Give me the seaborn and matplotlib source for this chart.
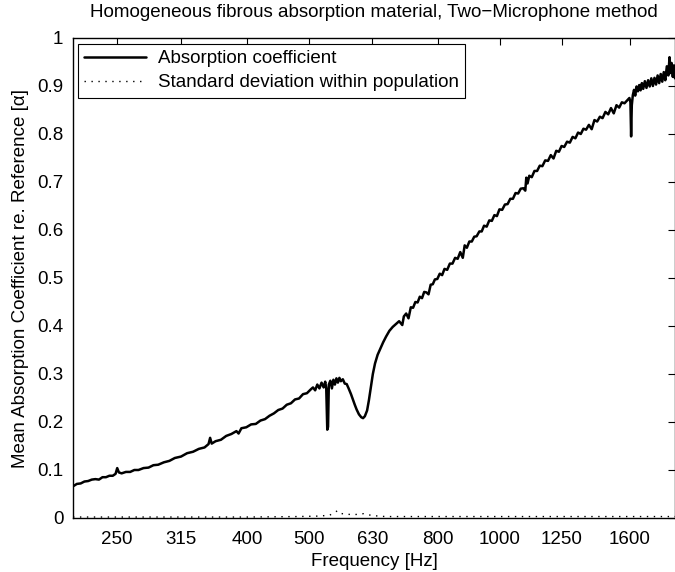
import numpy as np
import pandas as pd
import matplotlib
matplotlib.use("Agg")
import matplotlib.pyplot as plt
import seaborn as sns

# ---- data ----
freq_hz = [213, 216, 219, 222, 225, 228, 231, 234, 237, 240, 243, 246, 248.5, 250, 251.5, 254, 258, 262, 266, 270,
           275, 280, 285, 290, 296, 302, 308, 315, 322, 329, 336, 343, 348, 350, 352, 357, 364, 371, 378, 385,
           388, 392, 399, 406, 413, 420, 427, 434, 441, 448, 455, 462, 469, 476, 483, 490, 497, 504, 508, 512,
           516, 520, 524, 528, 531, 533, 535, 536.5, 538, 541, 544, 547, 550, 553, 556, 559, 562, 566, 570, 574,
           578, 583, 587, 591, 595, 600, 605, 609, 613, 618, 622, 626, 631, 636, 642, 648, 655, 662, 670, 678,
           686, 694, 702, 706, 712, 718, 724, 730, 736, 742, 748, 754, 760, 766, 772, 778, 784, 790, 797, 804,
           811, 818, 826, 834, 842, 850, 858, 866, 874, 880, 887, 895, 903, 911, 919, 928, 936, 944, 953, 962,
           971, 980, 989, 998, 1008, 1018, 1028, 1038, 1048, 1058, 1068, 1078, 1088, 1096, 1100, 1105, 1112, 1122, 1133, 1144,
           1155, 1166, 1178, 1190, 1202, 1214, 1226, 1238, 1250, 1262, 1275, 1288, 1301, 1314, 1327, 1340, 1353, 1366, 1380, 1394,
           1408, 1422, 1436, 1450, 1465, 1480, 1495, 1510, 1525, 1540, 1555, 1570, 1585, 1598, 1604, 1608, 1612, 1618, 1625, 1632,
           1640, 1648, 1656, 1664, 1672, 1680, 1690, 1700, 1710, 1720, 1730, 1740, 1750, 1760, 1770, 1780, 1790, 1800, 1810, 1820,
           1830, 1840, 1848, 1855, 1862, 1870, 1878, 1885]
absorption = [0.066, 0.071, 0.072, 0.076, 0.077, 0.080, 0.081, 0.080, 0.085, 0.085, 0.088, 0.088, 0.092, 0.104, 0.095, 0.093, 0.096, 0.096, 0.100, 0.100,
              0.104, 0.105, 0.110, 0.111, 0.116, 0.119, 0.125, 0.128, 0.135, 0.138, 0.144, 0.147, 0.154, 0.167, 0.155, 0.160, 0.163, 0.171, 0.175, 0.181,
              0.176, 0.187, 0.189, 0.195, 0.196, 0.203, 0.206, 0.213, 0.218, 0.225, 0.228, 0.236, 0.239, 0.247, 0.249, 0.258, 0.260, 0.268, 0.272, 0.266,
              0.278, 0.270, 0.282, 0.272, 0.284, 0.270, 0.184, 0.190, 0.278, 0.286, 0.270, 0.288, 0.278, 0.291, 0.282, 0.292, 0.285, 0.289, 0.280, 0.279,
              0.270, 0.258, 0.247, 0.236, 0.226, 0.216, 0.210, 0.208, 0.212, 0.224, 0.245, 0.270, 0.300, 0.322, 0.340, 0.352, 0.366, 0.378, 0.390, 0.398,
              0.404, 0.410, 0.402, 0.420, 0.426, 0.416, 0.439, 0.438, 0.450, 0.449, 0.461, 0.458, 0.471, 0.470, 0.466, 0.486, 0.487, 0.497, 0.498, 0.509,
              0.506, 0.519, 0.517, 0.530, 0.530, 0.542, 0.540, 0.554, 0.542, 0.568, 0.563, 0.576, 0.576, 0.586, 0.587, 0.597, 0.597, 0.609, 0.607, 0.620,
              0.619, 0.631, 0.629, 0.643, 0.642, 0.653, 0.654, 0.665, 0.665, 0.677, 0.676, 0.686, 0.687, 0.682, 0.709, 0.697, 0.713, 0.710, 0.723, 0.723,
              0.734, 0.733, 0.745, 0.744, 0.756, 0.749, 0.765, 0.763, 0.775, 0.773, 0.784, 0.782, 0.794, 0.791, 0.803, 0.800, 0.811, 0.809, 0.819, 0.810,
              0.829, 0.826, 0.836, 0.833, 0.846, 0.841, 0.854, 0.843, 0.860, 0.855, 0.866, 0.864, 0.870, 0.875, 0.866, 0.795, 0.860, 0.881, 0.892, 0.880,
              0.899, 0.889, 0.902, 0.891, 0.906, 0.894, 0.910, 0.896, 0.912, 0.899, 0.916, 0.900, 0.917, 0.903, 0.922, 0.906, 0.925, 0.909, 0.929, 0.912,
              0.941, 0.922, 0.960, 0.927, 0.948, 0.919, 0.943, 0.916]

std_freq_hz = [213, 300, 400, 480, 520, 540, 555, 560, 570, 590, 610, 630, 660, 800, 1200, 1885]
std_dev = [0.002, 0.002, 0.002, 0.003, 0.004, 0.006, 0.015, 0.010, 0.008, 0.007, 0.009, 0.005, 0.003, 0.003, 0.003, 0.003]

tick_freqs = [250, 315, 400, 500, 630, 800, 1000, 1250, 1600]
tick_labels = ["250", "315", "400", "500", "630", "800", "1000", "1250", "1600"]
y_ticks = [0, 0.1, 0.2, 0.3, 0.4, 0.5, 0.6, 0.7, 0.8, 0.9, 1]
y_tick_labels = ["0", "0.1", "0.2", "0.3", "0.4", "0.5", "0.6", "0.7", "0.8", "0.9", "1"]

# ---- styling ----
sns.set_theme(style="white")
plt.rcParams["font.family"] = ["Liberation Sans", "DejaVu Sans"]
plt.rcParams["text.color"] = "black"
plt.rcParams["axes.labelcolor"] = "black"
plt.rcParams["xtick.color"] = "black"
plt.rcParams["ytick.color"] = "black"
plt.rcParams["axes.edgecolor"] = "black"
plt.rcParams["axes.linewidth"] = 1.0

FS = 13.5

fig = plt.figure(figsize=(6.75, 5.72), dpi=100)
ax = fig.add_axes([73 / 675, 1 - 518 / 572, (675 - 73) / 675, 480 / 572])

df_main = pd.DataFrame({"Frequency": freq_hz, "Alpha": absorption})
df_std = pd.DataFrame({"Frequency": std_freq_hz, "Alpha": std_dev})

sns.lineplot(data=df_main, x="Frequency", y="Alpha", ax=ax, color="black",
             linewidth=1.8, label="Absorption coefficient", estimator=None)
sns.lineplot(data=df_std, x="Frequency", y="Alpha", ax=ax, color="black",
             linewidth=1.0, dashes=False, label="Standard deviation within population",
             estimator=None)
ax.lines[1].set_linestyle((0, (1, 4)))

ax.set_xscale("log")
ax.set_xlim(213, 1885)
ax.set_ylim(0, 1)
ax.set_xticks(tick_freqs)
ax.set_xticklabels(tick_labels)
ax.xaxis.set_minor_locator(matplotlib.ticker.NullLocator())
ax.set_yticks(y_ticks)
ax.set_yticklabels(y_tick_labels)

ax.tick_params(axis="both", which="major", direction="in", length=5, width=0.8,
               top=True, right=True, labelsize=FS, colors="black", pad=7)
ax.tick_params(axis="x", pad=9)
for s in ax.spines.values():
    s.set_visible(True)
    s.set_color("black")
    s.set_linewidth(1.0)

ax.set_xlabel("Frequency [Hz]", fontsize=FS, labelpad=4)
ax.set_ylabel("Mean Absorption Coefficient re. Reference [\u03b1]", fontsize=FS, labelpad=6)
ax.set_title("Homogeneous fibrous absorption material, Two\u2212Microphone method",
             fontsize=FS, pad=15)

leg = ax.legend(loc="upper left", bbox_to_anchor=(0.008, 0.988), borderaxespad=0,
                fontsize=FS, frameon=True, fancybox=False, handlelength=3.3,
                handletextpad=0.6, borderpad=0.35, labelspacing=0.35)
leg.get_frame().set_edgecolor("black")
leg.get_frame().set_linewidth(0.8)
leg.get_frame().set_alpha(1)
leg.legend_handles[1].set_linestyle((0, (1, 4)))

fig.savefig("out.png", dpi=100)
